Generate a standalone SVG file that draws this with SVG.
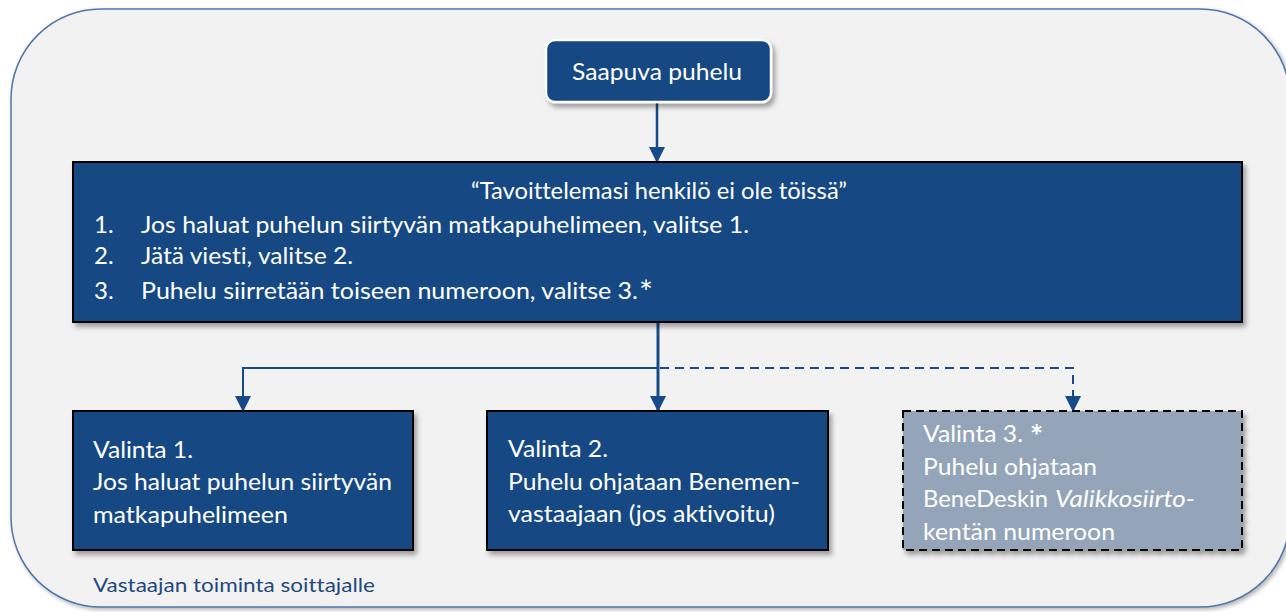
<svg xmlns="http://www.w3.org/2000/svg" width="1286" height="612" viewBox="0 0 1286 612">
  <defs>
    <filter id="sh" x="-10%" y="-10%" width="130%" height="140%">
      <feDropShadow dx="3" dy="4" stdDeviation="2.5" flood-color="#000" flood-opacity="0.35"/>
    </filter>
    <filter id="shOuter" x="-5%" y="-5%" width="110%" height="110%">
      <feDropShadow dx="2" dy="2" stdDeviation="2" flood-color="#000" flood-opacity="0.3"/>
    </filter>
    <marker id="arr" markerUnits="userSpaceOnUse" markerWidth="16" markerHeight="16" refX="15" refY="8" orient="auto" viewBox="0 0 16 16">
      <path d="M0,0 L16,8 L0,16 z" fill="#174a88"/>
    </marker>
    <style>
      .t { font-family: Lato, "Liberation Sans", sans-serif; fill: #ffffff; font-size: 24px; font-variant-ligatures: none; }
      .lbl { font-family: Lato, "Liberation Sans", sans-serif; fill: #1f497d; font-size: 20px; font-variant-ligatures: none; }
      .box { fill: #154883; stroke: #000000; stroke-width: 2; }
      .conn { fill: none; stroke: #174a88; }
    </style>
  </defs>

  <g id="frame">
    <rect x="11" y="9" width="1279" height="598" rx="90" ry="90" fill="#f2f2f2" stroke="#4f76a8" stroke-width="1.5" filter="url(#shOuter)"/>
    <text class="lbl" x="93" y="592" textLength="282" lengthAdjust="spacingAndGlyphs">Vastaajan toiminta soittajalle</text>
  </g>

  <g id="connectors">
    <path class="conn" d="M657,102 L657,162" stroke-width="2.5" marker-end="url(#arr)"/>
    <path class="conn" d="M658,322 L658,411" stroke-width="3" marker-end="url(#arr)"/>
    <path class="conn" d="M658,368 L243,368 L243,411" stroke-width="2" marker-end="url(#arr)"/>
    <path class="conn" d="M660,368 L1073,368 L1073,411" stroke-width="2" stroke-dasharray="9,6" marker-end="url(#arr)"/>
  </g>

  <g id="start">
    <rect x="546" y="40" width="225" height="62" rx="9" ry="9" fill="#154883" stroke="#ffffff" stroke-width="2.5" filter="url(#sh)"/>
    <text class="t" x="572" y="80" textLength="170" lengthAdjust="spacingAndGlyphs">Saapuva puhelu</text>
  </g>

  <g id="menu">
    <rect class="box" x="73" y="162" width="1169" height="160" filter="url(#sh)"/>
    <text class="t" x="471" y="199" textLength="376" lengthAdjust="spacingAndGlyphs">“Tavoittelemasi henkilö ei ole töissä”</text>
    <text class="t" x="94" y="233">1.</text>
    <text class="t" x="141" y="233" textLength="608" lengthAdjust="spacingAndGlyphs">Jos haluat puhelun siirtyvän matkapuhelimeen, valitse 1.</text>
    <text class="t" x="94" y="264">2.</text>
    <text class="t" x="141" y="264" textLength="212" lengthAdjust="spacingAndGlyphs">Jätä viesti, valitse 2.</text>
    <text class="t" x="94" y="299">3.</text>
    <text class="t" x="141" y="299" textLength="497" lengthAdjust="spacingAndGlyphs">Puhelu siirretään toiseen numeroon, valitse 3.</text>
    <text class="t" x="639" y="304" style="font-size:33px">*</text>
  </g>

  <g id="option1">
    <rect class="box" x="73" y="411" width="340" height="139" filter="url(#sh)"/>
    <text class="t" x="93" y="458" textLength="100" lengthAdjust="spacingAndGlyphs">Valinta 1.</text>
    <text class="t" x="93" y="490" textLength="299" lengthAdjust="spacingAndGlyphs">Jos haluat puhelun siirtyvän</text>
    <text class="t" x="93" y="523" textLength="195" lengthAdjust="spacingAndGlyphs">matkapuhelimeen</text>
  </g>

  <g id="option2">
    <rect class="box" x="487" y="411" width="341" height="139" filter="url(#sh)"/>
    <text class="t" x="508" y="457" textLength="100" lengthAdjust="spacingAndGlyphs">Valinta 2.</text>
    <text class="t" x="508" y="490" textLength="292" lengthAdjust="spacingAndGlyphs">Puhelu ohjataan Benemen-</text>
    <text class="t" x="508" y="522" textLength="267" lengthAdjust="spacingAndGlyphs">vastaajaan (jos aktivoitu)</text>
  </g>

  <g id="option3">
    <rect x="903" y="411" width="339" height="139" fill="#94a5b9" stroke="#000000" stroke-width="2" stroke-dasharray="8,5" filter="url(#sh)"/>
    <text class="t" x="923" y="442" textLength="100" lengthAdjust="spacingAndGlyphs">Valinta 3.</text>
    <text class="t" x="1030" y="447" style="font-size:31px;font-weight:bold">*</text>
    <text class="t" x="923" y="475" textLength="174" lengthAdjust="spacingAndGlyphs">Puhelu ohjataan</text>
    <text class="t" x="923" y="507" textLength="125" lengthAdjust="spacingAndGlyphs">BeneDeskin</text>
    <text class="t" x="1055" y="507" textLength="140" lengthAdjust="spacingAndGlyphs" font-style="italic">Valikkosiirto-</text>
    <text class="t" x="923" y="540" textLength="192" lengthAdjust="spacingAndGlyphs">kentän numeroon</text>
  </g>
</svg>
